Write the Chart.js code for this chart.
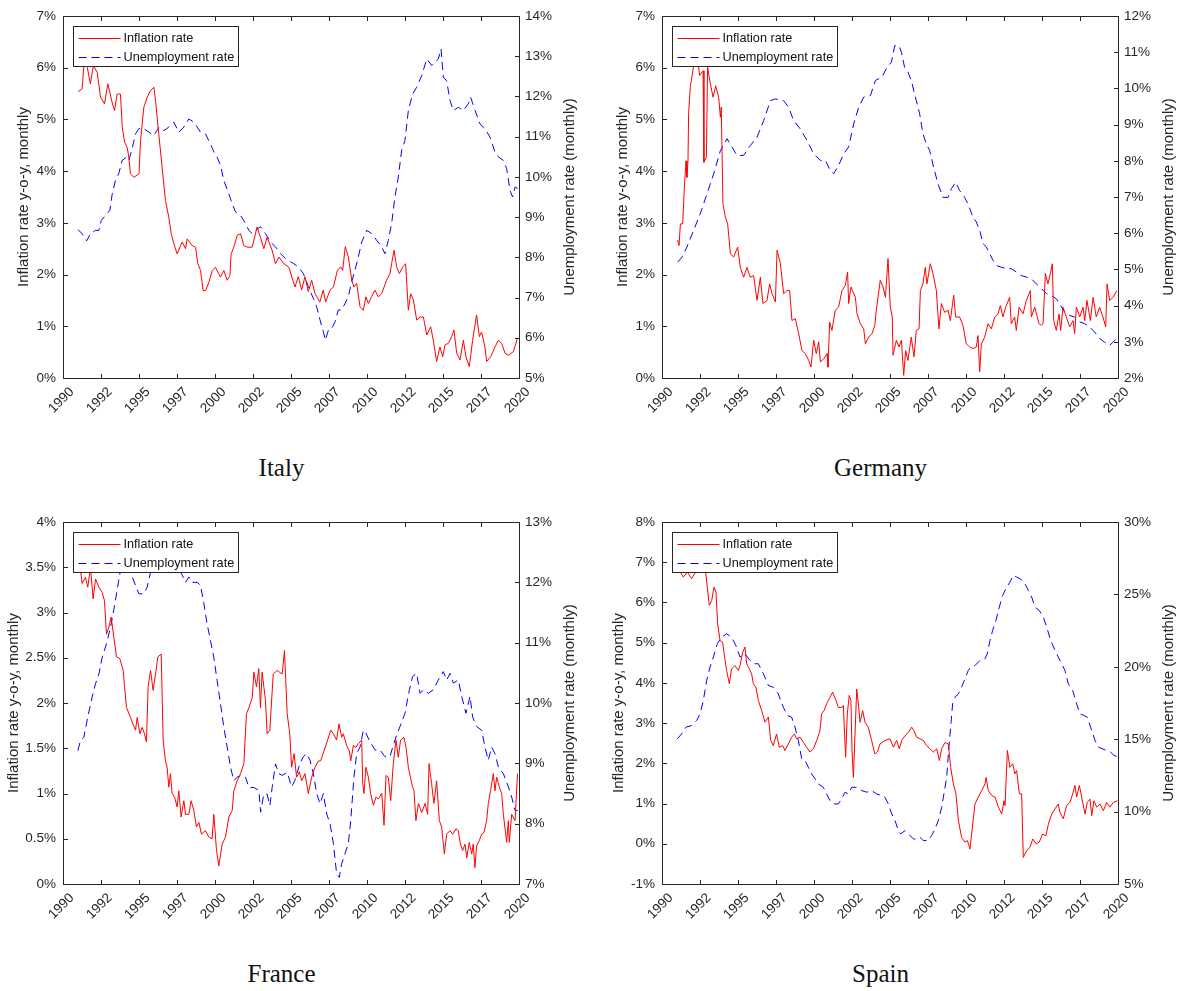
<!DOCTYPE html>
<html>
<head>
<meta charset="utf-8">
<title>Inflation and unemployment</title>
<script src="https://cdn.jsdelivr.net/npm/chart.js@4.4.1/dist/chart.umd.min.js"></script>
<style>
    html, body { margin: 0; padding: 0; background: #fff; overflow: hidden; }
    body { width: 1184px; height: 991px; position: relative; }
    .panel { position: absolute; width: 585px; height: 500px; }
    .panel canvas { position: absolute; left: 0; top: 0; }
    .country {
        position: absolute; left: 0; top: 455px; width: 563px;
        text-align: center; line-height: 25px;
        font-family: "Liberation Serif", "Times New Roman", serif;
        font-size: 25px; color: #111;
    }
</style>
</head>
<body>
<div class="panel" style="left:0;top:0"><canvas id="italy" width="585" height="430"></canvas><div class="country">Italy</div></div>
<div class="panel" style="left:599px;top:0"><canvas id="germany" width="585" height="430"></canvas><div class="country">Germany</div></div>
<div class="panel" style="left:0;top:506px"><canvas id="france" width="585" height="430"></canvas><div class="country">France</div></div>
<div class="panel" style="left:599px;top:506px"><canvas id="spain" width="585" height="430"></canvas><div class="country">Spain</div></div>

<script>
// ---- series: [year, percent] ----
const italyInflation = [
    [1991.0,5.54],[1991.26,5.59],[1991.38,6.07],[1991.5,6.1],[1991.6,6.0],[1991.8,5.69],[1992.0,6.04],[1992.25,5.91],
    [1992.47,5.43],[1992.73,5.3],[1992.95,5.69],[1993.23,5.33],[1993.39,5.17],[1993.56,5.49],[1993.78,5.49],[1993.9,4.85],
    [1994.05,4.56],[1994.22,4.46],[1994.33,4.27],[1994.44,3.95],[1994.66,3.88],[1995.0,3.95],[1995.1,4.59],[1995.32,5.24],
    [1995.54,5.43],[1995.76,5.56],[1995.98,5.62],[1996.09,5.36],[1996.3,4.72],[1996.52,4.08],[1996.74,3.43],[1996.96,3.11],
    [1997.12,2.79],[1997.29,2.6],[1997.51,2.4],[1997.84,2.63],[1998.06,2.5],[1998.17,2.69],[1998.5,2.56],[1998.72,2.53],
    [1998.87,2.21],[1999.05,2.08],[1999.22,1.69],[1999.38,1.69],[1999.6,1.85],[1999.82,2.08],[2000.03,2.14],[2000.36,1.95],
    [2000.58,2.08],[2000.8,1.89],[2000.98,1.98],[2001.06,2.4],[2001.24,2.53],[2001.46,2.76],[2001.68,2.79],[2001.9,2.56],
    [2002.12,2.53],[2002.45,2.53],[2002.77,2.92],[2002.99,2.72],[2003.21,2.5],[2003.43,2.72],[2003.76,2.47],[2003.98,2.21],
    [2004.2,2.34],[2004.53,2.21],[2004.86,2.14],[2005.26,1.76],[2005.48,1.96],[2005.7,1.7],[2005.92,1.96],[2006.14,1.67],
    [2006.36,1.89],[2006.58,1.63],[2006.9,1.47],[2007.12,1.7],[2007.28,1.47],[2007.57,1.7],[2007.79,1.76],[2008.05,2.08],
    [2008.27,2.15],[2008.4,2.08],[2008.57,2.54],[2008.77,2.34],[2009.0,1.89],[2009.14,1.76],[2009.32,1.83],[2009.54,1.38],
    [2009.76,1.31],[2009.93,1.57],[2010.09,1.44],[2010.3,1.57],[2010.52,1.7],[2010.74,1.57],[2010.96,1.63],[2011.29,1.89],
    [2011.51,2.02],[2011.62,2.21],[2011.78,2.47],[2011.95,2.15],[2012.13,2.02],[2012.35,2.15],[2012.54,2.21],[2012.72,1.31],
    [2012.87,1.63],[2013.05,1.51],[2013.27,1.12],[2013.49,1.18],[2013.71,1.18],[2013.93,0.83],[2014.19,0.99],[2014.36,0.73],
    [2014.58,0.32],[2014.8,0.6],[2014.98,0.41],[2015.13,0.64],[2015.35,0.67],[2015.57,0.8],[2015.72,0.93],[2015.9,0.48],
    [2016.12,0.35],[2016.34,0.73],[2016.51,0.41],[2016.73,0.22],[2016.95,0.73],[2017.21,1.22],[2017.39,0.8],[2017.54,0.89],
    [2017.76,0.6],[2017.87,0.32],[2018.14,0.41],[2018.42,0.6],[2018.64,0.73],[2018.86,0.67],[2019.08,0.48],[2019.3,0.44],
    [2019.63,0.51],[2019.9,0.77]
];
const italyUnemployment = [
    [1990.98,8.69],[1991.26,8.59],[1991.55,8.41],[1991.81,8.59],[1992.14,8.67],[1992.36,8.67],[1992.52,8.92],[1992.8,9.04],
    [1993.08,9.17],[1993.24,9.58],[1993.45,9.91],[1993.67,10.08],[1993.89,10.41],[1994.18,10.49],[1994.33,10.41],[1994.55,10.7],
    [1994.77,11.07],[1994.99,11.2],[1995.32,11.2],[1995.65,11.11],[1995.98,11.03],[1996.31,11.24],[1996.64,11.15],[1996.96,11.24],
    [1997.29,11.36],[1997.62,11.11],[1997.95,11.24],[1998.28,11.44],[1998.61,11.36],[1999.05,11.11],[1999.37,11.07],[1999.7,10.82],
    [1999.93,10.62],[2000.14,10.49],[2000.36,10.29],[2000.58,9.91],[2000.91,9.58],[2001.13,9.33],[2001.35,9.13],[2001.68,9.04],
    [2002.01,8.84],[2002.23,8.67],[2002.45,8.59],[2002.67,8.67],[2002.99,8.76],[2003.32,8.59],[2003.65,8.38],[2003.98,8.26],
    [2004.31,8.09],[2004.64,7.97],[2004.97,7.89],[2005.15,7.85],[2005.48,7.76],[2005.81,7.6],[2006.14,7.27],[2006.47,6.98],
    [2006.69,6.77],[2006.91,6.44],[2007.13,6.15],[2007.26,5.94],[2007.46,6.19],[2007.68,6.23],[2007.9,6.4],[2008.11,6.69],
    [2008.33,6.69],[2008.55,6.85],[2008.77,7.02],[2008.99,7.39],[2009.21,7.68],[2009.43,8.01],[2009.65,8.38],[2009.98,8.67],
    [2010.31,8.59],[2010.64,8.42],[2010.97,8.26],[2011.18,8.09],[2011.4,8.42],[2011.62,8.84],[2011.84,9.5],[2012.06,10.0],
    [2012.28,10.66],[2012.5,10.91],[2012.72,11.65],[2013.0,12.06],[2013.27,12.23],[2013.6,12.52],[2013.93,12.93],[2014.26,12.77],
    [2014.47,12.85],[2014.69,12.93],[2014.87,13.18],[2015.02,12.48],[2015.24,12.39],[2015.46,11.9],[2015.68,11.65],[2016.01,11.73],
    [2016.34,11.65],[2016.67,11.82],[2016.82,11.98],[2017.11,11.65],[2017.43,11.32],[2017.76,11.2],[2018.09,10.99],[2018.42,10.62],
    [2018.64,10.5],[2018.97,10.41],[2019.19,10.2],[2019.41,9.66],[2019.58,9.5],[2019.74,9.75],[2019.91,9.71]
];

const germanyInflation = [
    [1991.03,2.67],[1991.12,2.56],[1991.21,2.98],[1991.36,2.98],[1991.47,3.69],[1991.58,4.2],[1991.64,3.88],[1991.71,4.2],
    [1991.75,5.11],[1991.86,5.62],[1992.08,6.04],[1992.35,6.14],[1992.48,5.85],[1992.7,5.94],[1992.76,4.17],[1992.92,4.27],
    [1993.0,6.01],[1993.18,5.69],[1993.36,5.43],[1993.53,5.65],[1993.73,5.43],[1993.84,5.04],[1993.9,5.24],[1994.01,3.37],
    [1994.17,3.11],[1994.32,2.98],[1994.5,2.4],[1994.71,2.34],[1994.98,2.53],[1995.15,2.14],[1995.37,1.95],[1995.59,2.14],
    [1995.81,1.95],[1996.03,1.98],[1996.25,1.5],[1996.47,1.95],[1996.64,1.44],[1996.91,1.5],[1997.08,1.82],[1997.24,1.63],
    [1997.46,1.47],[1997.57,2.47],[1997.79,2.21],[1998.0,1.63],[1998.22,1.69],[1998.4,1.69],[1998.55,1.11],[1998.77,1.15],
    [1998.99,0.86],[1999.21,0.53],[1999.43,0.47],[1999.65,0.34],[1999.8,0.21],[1999.98,0.73],[2000.15,0.47],[2000.31,0.7],
    [2000.42,0.31],[2000.64,0.37],[2000.86,0.47],[2000.92,0.21],[2001.03,1.08],[2001.18,0.92],[2001.4,1.31],[2001.62,1.37],
    [2001.84,1.69],[2002.06,1.79],[2002.21,2.05],[2002.28,1.44],[2002.43,1.76],[2002.72,1.56],[2002.83,1.24],[2003.05,1.05],
    [2003.27,0.95],[2003.38,0.66],[2003.6,0.79],[2003.82,0.86],[2004.0,1.02],[2004.1,1.31],[2004.36,1.89],[2004.54,1.76],
    [2004.7,1.56],[2004.87,2.31],[2005.02,1.37],[2005.15,1.18],[2005.2,0.44],[2005.42,0.73],[2005.59,0.6],[2005.75,0.73],
    [2005.9,0.05],[2006.03,0.53],[2006.18,0.34],[2006.4,0.79],[2006.58,0.41],[2006.73,0.92],[2006.91,0.95],[2007.0,1.69],
    [2007.17,1.82],[2007.32,2.14],[2007.43,1.82],[2007.65,2.21],[2007.83,2.02],[2008.05,1.69],[2008.22,0.95],[2008.38,1.44],
    [2008.6,1.27],[2008.82,1.31],[2008.97,1.11],[2009.19,1.6],[2009.32,1.18],[2009.58,1.18],[2009.8,1.02],[2010.02,0.66],
    [2010.24,0.6],[2010.46,0.57],[2010.68,0.6],[2010.79,0.82],[2010.9,0.12],[2011.01,0.66],[2011.23,0.79],[2011.45,1.05],
    [2011.67,0.95],[2011.89,1.18],[2012.11,1.24],[2012.26,1.4],[2012.43,1.18],[2012.61,1.37],[2012.87,1.56],[2012.98,1.05],
    [2013.2,1.18],[2013.31,0.92],[2013.49,1.37],[2013.75,1.24],[2013.97,1.5],[2014.23,1.69],[2014.3,1.18],[2014.52,1.37],
    [2014.8,1.05],[2014.96,1.02],[2015.07,1.05],[2015.22,2.02],[2015.39,1.82],[2015.55,2.02],[2015.68,2.21],[2015.77,1.11],
    [2015.94,0.92],[2016.12,1.24],[2016.23,0.92],[2016.38,1.37],[2016.6,1.18],[2016.82,0.99],[2017.04,1.11],[2017.15,0.86],
    [2017.26,1.37],[2017.48,1.18],[2017.7,1.37],[2017.81,1.11],[2017.96,1.5],[2018.18,1.11],[2018.36,1.56],[2018.57,1.18],
    [2018.79,1.37],[2019.01,1.18],[2019.19,0.99],[2019.28,1.82],[2019.45,1.5],[2019.67,1.56],[2019.93,1.69]
];
const germanyUnemployment = [
    [1991.03,5.2],[1991.32,5.34],[1991.64,5.62],[1992.08,6.08],[1992.52,6.54],[1992.96,7.09],[1993.4,7.64],[1993.84,8.28],
    [1994.28,8.61],[1994.61,8.38],[1994.93,8.15],[1995.37,8.15],[1995.81,8.42],[1996.25,8.65],[1996.69,9.11],[1997.13,9.66],
    [1997.46,9.71],[1998.0,9.66],[1998.33,9.48],[1998.66,9.11],[1999.1,8.88],[1999.54,8.56],[1999.98,8.19],[2000.42,8.01],
    [2000.75,8.01],[2001.07,7.73],[2001.29,7.64],[2001.62,7.87],[2001.95,8.19],[2002.28,8.38],[2002.61,9.02],[2002.94,9.48],
    [2003.27,9.76],[2003.71,9.8],[2004.04,10.22],[2004.47,10.31],[2004.8,10.58],[2005.09,10.72],[2005.31,11.18],[2005.59,11.18],
    [2005.75,11.0],[2005.96,10.58],[2006.18,10.45],[2006.4,10.22],[2006.73,9.66],[2006.95,9.3],[2007.17,8.74],[2007.39,8.47],
    [2007.61,8.28],[2007.87,7.82],[2008.16,7.36],[2008.49,6.99],[2008.82,6.99],[2009.04,7.23],[2009.32,7.41],[2009.58,7.18],
    [2009.91,6.99],[2010.13,6.81],[2010.46,6.44],[2010.68,6.31],[2010.9,6.08],[2011.12,5.71],[2011.34,5.62],[2011.56,5.43],
    [2011.78,5.25],[2012.0,5.11],[2012.32,5.06],[2012.65,5.02],[2012.98,5.02],[2013.31,4.93],[2013.64,4.83],[2013.97,4.79],
    [2014.3,4.74],[2014.63,4.6],[2014.96,4.47],[2015.29,4.33],[2015.61,4.28],[2015.94,4.19],[2016.16,4.05],[2016.49,3.82],
    [2016.82,3.73],[2017.15,3.68],[2017.48,3.55],[2017.81,3.5],[2018.14,3.41],[2018.46,3.27],[2018.79,3.09],[2019.12,2.99],
    [2019.45,2.9],[2019.67,2.99],[2019.93,3.09]
];

const franceInflation = [
    [1990.98,3.54],[1991.15,3.47],[1991.26,3.32],[1991.48,3.39],[1991.63,3.28],[1991.81,3.5],[1991.98,3.15],[1992.14,3.37],
    [1992.36,3.28],[1992.58,3.22],[1992.73,3.13],[1992.86,2.76],[1993.02,2.84],[1993.17,2.95],[1993.34,2.73],[1993.52,2.51],
    [1993.74,2.49],[1993.96,2.36],[1994.05,2.18],[1994.18,1.95],[1994.44,1.84],[1994.55,1.79],[1994.77,1.7],[1994.88,1.84],
    [1995.06,1.66],[1995.21,1.73],[1995.36,1.66],[1995.49,1.57],[1995.6,2.18],[1995.76,2.36],[1995.93,2.14],[1996.09,2.32],
    [1996.24,2.51],[1996.46,2.54],[1996.59,1.59],[1996.74,1.36],[1996.85,1.29],[1996.96,1.07],[1997.07,1.22],[1997.18,1.0],
    [1997.34,0.96],[1997.51,0.85],[1997.62,1.03],[1997.77,0.74],[1997.95,0.92],[1998.06,0.77],[1998.28,0.77],[1998.43,0.92],
    [1998.61,0.81],[1998.78,0.63],[1998.94,0.68],[1999.11,0.55],[1999.37,0.59],[1999.59,0.52],[1999.81,0.5],[1999.92,0.77],
    [2000.1,0.37],[2000.25,0.2],[2000.47,0.44],[2000.69,0.52],[2000.91,0.74],[2001.13,0.81],[2001.24,1.03],[2001.46,1.14],
    [2001.68,1.22],[2001.9,1.33],[2002.07,1.88],[2002.23,1.95],[2002.45,2.06],[2002.56,2.34],[2002.73,2.18],[2002.88,2.38],
    [2002.99,1.95],[2003.1,2.34],[2003.32,2.03],[2003.43,1.66],[2003.61,1.7],[2003.83,2.32],[2004.09,2.36],[2004.42,2.32],
    [2004.57,2.58],[2004.75,1.88],[2004.92,1.66],[2005.04,1.29],[2005.2,1.44],[2005.37,1.18],[2005.55,1.24],[2005.7,1.14],
    [2005.92,1.22],[2006.14,1.0],[2006.36,1.18],[2006.58,1.29],[2006.8,1.36],[2006.95,1.36],[2007.17,1.47],[2007.41,1.59],
    [2007.61,1.7],[2007.79,1.66],[2008.0,1.59],[2008.16,1.77],[2008.33,1.62],[2008.44,1.66],[2008.66,1.53],[2008.84,1.47],
    [2008.93,1.36],[2009.1,1.53],[2009.28,1.51],[2009.43,1.55],[2009.65,1.59],[2009.72,1.11],[2009.8,1.0],[2009.93,1.29],
    [2010.09,1.18],[2010.24,1.0],[2010.42,0.87],[2010.59,0.96],[2010.75,0.94],[2010.97,1.0],[2011.12,0.65],[2011.25,1.2],
    [2011.4,1.18],[2011.56,0.92],[2011.73,1.33],[2011.91,1.59],[2012.06,1.4],[2012.21,1.59],[2012.43,1.62],[2012.57,1.51],
    [2012.72,1.29],[2012.94,1.11],[2013.09,1.03],[2013.22,0.7],[2013.38,0.89],[2013.6,0.79],[2013.82,0.89],[2013.99,0.77],
    [2014.08,1.33],[2014.25,1.11],[2014.4,0.89],[2014.58,1.14],[2014.76,0.7],[2014.91,0.63],[2015.09,0.33],[2015.24,0.55],
    [2015.46,0.59],[2015.64,0.55],[2015.85,0.61],[2016.01,0.59],[2016.12,0.46],[2016.29,0.37],[2016.45,0.44],[2016.56,0.29],
    [2016.73,0.46],[2016.89,0.33],[2016.99,0.44],[2017.1,0.18],[2017.21,0.42],[2017.39,0.48],[2017.54,0.55],[2017.7,0.57],
    [2017.87,0.7],[2017.98,0.89],[2018.13,1.03],[2018.31,1.22],[2018.42,1.03],[2018.53,1.18],[2018.71,1.07],[2018.86,1.0],
    [2018.97,0.77],[2019.19,0.46],[2019.3,0.7],[2019.36,0.46],[2019.52,0.77],[2019.74,0.7],[2019.9,1.22]
];
const franceUnemployment = [
    [1990.98,9.21],[1991.15,9.38],[1991.37,9.43],[1991.63,9.77],[1991.92,10.1],[1992.14,10.32],[1992.36,10.48],[1992.58,10.76],
    [1992.86,10.98],[1993.13,11.26],[1993.34,11.54],[1993.56,11.87],[1993.78,12.2],[1994.1,12.4],[1994.35,12.35],[1994.55,12.09],
    [1994.77,11.95],[1994.99,11.81],[1995.32,11.81],[1995.54,11.92],[1995.76,12.17],[1996.0,12.35],[1996.5,12.45],[1997.0,12.4],
    [1997.4,12.3],[1997.73,12.17],[1997.84,12.12],[1998.06,12.0],[1998.28,12.09],[1998.5,12.0],[1998.83,12.0],[1999.05,11.95],
    [1999.27,11.65],[1999.48,11.31],[1999.7,11.04],[1999.92,10.76],[2000.14,10.37],[2000.36,9.99],[2000.58,9.6],[2000.8,9.27],
    [2001.02,8.94],[2001.24,8.71],[2001.46,8.77],[2001.68,8.8],[2002.01,8.77],[2002.23,8.6],[2002.56,8.6],[2002.89,8.55],
    [2003.0,8.19],[2003.21,8.49],[2003.43,8.49],[2003.61,8.3],[2003.76,8.6],[2003.98,8.99],[2004.2,8.83],[2004.42,8.8],
    [2004.75,8.85],[2005.04,8.61],[2005.26,8.72],[2005.59,9.0],[2005.81,9.11],[2006.03,9.16],[2006.25,9.05],[2006.47,8.83],
    [2006.69,8.5],[2006.91,8.33],[2007.13,8.5],[2007.35,8.16],[2007.57,8.0],[2007.79,7.67],[2008.0,7.17],[2008.18,7.11],
    [2008.33,7.33],[2008.55,7.5],[2008.77,7.67],[2008.93,8.05],[2009.14,8.77],[2009.32,9.16],[2009.54,9.27],[2009.76,9.55],
    [2009.93,9.5],[2010.15,9.38],[2010.53,9.22],[2010.86,9.22],[2011.18,9.11],[2011.51,9.11],[2011.73,9.3],[2011.95,9.47],
    [2012.17,9.61],[2012.5,9.83],[2012.79,10.22],[2013.0,10.44],[2013.27,10.49],[2013.49,10.16],[2013.71,10.22],[2014.04,10.16],
    [2014.36,10.22],[2014.69,10.38],[2015.02,10.52],[2015.24,10.38],[2015.46,10.49],[2015.68,10.33],[2016.01,10.38],[2016.23,10.11],
    [2016.51,9.83],[2016.78,10.11],[2016.95,9.77],[2017.21,9.61],[2017.54,9.55],[2017.76,9.27],[2017.98,9.05],[2018.2,9.27],
    [2018.42,9.16],[2018.64,8.94],[2018.97,8.83],[2019.3,8.61],[2019.52,8.44],[2019.74,8.22],[2019.91,8.22]
];

const spainInflation = [
    [1991.01,6.88],[1991.4,6.63],[1991.67,6.75],[1991.95,6.59],[1992.28,6.8],[1992.5,6.79],[1992.83,6.88],[1992.98,6.38],
    [1993.11,5.93],[1993.27,6.05],[1993.42,6.38],[1993.55,6.26],[1993.66,5.47],[1993.82,5.05],[1993.99,5.01],[1994.12,4.64],
    [1994.25,4.31],[1994.43,3.98],[1994.58,4.35],[1994.8,4.43],[1995.02,4.31],[1995.13,4.43],[1995.31,4.76],[1995.46,4.89],
    [1995.57,4.47],[1995.75,4.35],[1995.9,4.22],[1996.01,3.98],[1996.18,3.89],[1996.34,3.56],[1996.56,3.31],[1996.78,3.02],
    [1997.0,3.15],[1997.15,2.57],[1997.32,2.44],[1997.54,2.73],[1997.72,2.4],[1997.94,2.44],[1998.09,2.32],[1998.31,2.48],
    [1998.53,2.65],[1998.71,2.73],[1998.86,2.61],[1999.08,2.65],[1999.3,2.52],[1999.52,2.4],[1999.74,2.28],[1999.96,2.36],
    [2000.18,2.57],[2000.39,2.81],[2000.5,3.23],[2000.66,3.31],[2000.83,3.48],[2001.05,3.64],[2001.23,3.77],[2001.45,3.56],
    [2001.6,3.39],[2001.82,3.39],[2001.93,3.44],[2002.08,2.15],[2002.19,3.23],[2002.32,3.69],[2002.43,3.56],[2002.5,2.32],
    [2002.59,1.65],[2002.7,2.73],[2002.81,3.85],[2002.94,3.39],[2003.03,3.02],[2003.2,3.31],[2003.36,3.02],[2003.57,2.9],
    [2003.79,2.57],[2004.01,2.23],[2004.17,2.28],[2004.34,2.48],[2004.67,2.57],[2005.0,2.61],[2005.22,2.4],[2005.44,2.57],
    [2005.61,2.36],[2005.77,2.57],[2005.99,2.69],[2006.21,2.77],[2006.43,2.9],[2006.58,2.81],[2006.75,2.65],[2006.97,2.61],
    [2007.19,2.57],[2007.41,2.44],[2007.63,2.36],[2007.85,2.28],[2008.07,2.36],[2008.25,2.07],[2008.4,2.36],[2008.62,2.52],
    [2008.84,2.48],[2008.99,1.9],[2009.17,1.49],[2009.34,1.24],[2009.5,0.58],[2009.71,0.16],[2009.93,0.04],[2010.09,0.08],
    [2010.26,-0.13],[2010.37,0.24],[2010.59,0.99],[2010.81,1.16],[2011.03,1.32],[2011.25,1.49],[2011.32,1.65],[2011.47,1.32],
    [2011.69,1.2],[2011.91,1.16],[2012.13,0.91],[2012.35,0.74],[2012.5,1.07],[2012.57,0.95],[2012.72,2.32],[2012.89,1.9],
    [2013.07,1.99],[2013.22,1.74],[2013.33,1.82],[2013.51,1.24],[2013.66,1.24],[2013.77,-0.34],[2013.99,-0.17],[2014.21,-0.09],
    [2014.39,0.12],[2014.61,0.0],[2014.82,0.04],[2015.04,0.24],[2015.26,0.2],[2015.42,0.49],[2015.64,0.74],[2015.86,0.87],
    [2016.07,0.99],[2016.18,0.78],[2016.4,0.62],[2016.62,0.95],[2016.84,1.03],[2017.02,1.24],[2017.17,1.45],[2017.28,1.16],
    [2017.46,1.45],[2017.61,1.16],[2017.83,0.74],[2017.98,1.03],[2018.16,1.11],[2018.27,0.7],[2018.42,1.07],[2018.6,0.91],
    [2018.82,0.99],[2019.04,0.82],[2019.25,1.03],[2019.47,0.91],[2019.69,1.03],[2019.96,1.07]
];
const spainUnemployment = [
    [1991.01,15.02],[1991.29,15.37],[1991.58,15.83],[1991.95,15.94],[1992.28,16.29],[1992.5,16.75],[1992.72,17.67],[1992.94,19.06],
    [1993.16,19.98],[1993.38,20.67],[1993.64,21.59],[1993.93,22.05],[1994.25,22.28],[1994.58,22.05],[1994.91,21.36],[1995.13,20.67],
    [1995.46,20.9],[1995.79,20.44],[1996.12,20.21],[1996.34,20.21],[1996.67,19.52],[1997.0,18.71],[1997.32,18.59],[1997.65,18.13],
    [1997.98,17.21],[1998.25,16.64],[1998.53,16.52],[1998.75,15.83],[1998.97,14.91],[1999.19,13.64],[1999.41,13.53],[1999.63,13.06],
    [1999.85,12.6],[2000.07,12.26],[2000.29,11.91],[2000.61,11.68],[2000.83,11.22],[2001.05,10.76],[2001.27,10.53],[2001.6,10.53],
    [2001.82,10.88],[2002.04,11.34],[2002.26,11.22],[2002.48,11.68],[2002.81,11.68],[2003.14,11.45],[2003.47,11.34],[2003.8,11.45],
    [2004.12,11.22],[2004.45,11.11],[2004.67,10.99],[2004.89,10.53],[2005.11,9.84],[2005.33,9.38],[2005.55,8.69],[2005.7,8.46],
    [2005.99,8.69],[2006.32,8.34],[2006.54,8.11],[2006.75,8.11],[2006.97,8.23],[2007.19,8.0],[2007.52,8.0],[2007.74,8.34],
    [2007.96,8.8],[2008.18,9.38],[2008.4,10.3],[2008.62,11.68],[2008.73,12.37],[2008.84,13.99],[2008.99,15.83],[2009.12,17.44],
    [2009.28,17.9],[2009.5,18.13],[2009.71,18.59],[2009.93,19.17],[2010.15,19.75],[2010.31,19.98],[2010.59,20.09],[2010.92,20.44],
    [2011.25,20.55],[2011.4,20.9],[2011.58,21.82],[2011.75,22.51],[2011.97,23.2],[2012.19,24.12],[2012.41,24.93],[2012.68,25.51],
    [2012.89,25.85],[2013.11,26.31],[2013.33,26.2],[2013.55,26.08],[2013.82,25.85],[2014.1,25.28],[2014.32,24.82],[2014.54,24.12],
    [2014.82,23.89],[2015.09,23.43],[2015.31,22.74],[2015.57,21.82],[2015.86,21.13],[2016.18,20.44],[2016.51,19.75],[2016.73,18.82],
    [2017.02,18.36],[2017.28,17.44],[2017.5,16.75],[2017.76,16.64],[2017.98,16.52],[2018.2,15.83],[2018.49,14.91],[2018.71,14.45],
    [2018.99,14.33],[2019.25,14.22],[2019.52,14.1],[2019.74,13.87],[2019.96,13.8]
];

// axis ranges: [min, max, step]
const italyLeft = [0, 7, 1],     italyRight = [5, 14, 1];
const germanyLeft = [0, 7, 1],   germanyRight = [2, 12, 1];
const franceLeft = [0, 4, 0.5],  franceRight = [7, 13, 1];
const spainLeft = [-1, 8, 1],    spainRight = [5, 30, 5];
const yearRange = [1990, 2020, 2.5];

const AXIS = "#262626";
const SANS = "'Liberation Sans', Arial, Helvetica, sans-serif";
Chart.defaults.font.family = SANS;
Chart.defaults.color = AXIS;

const pct = (v) => Number(v.toFixed(1)) + "%";
const toPoints = (rows) => rows.map(([x, y]) => ({ x, y }));

// MATLAB-ish box: frame on all four sides with ticks pointing inward
const boxFrame = {
    id: "boxFrame",
    afterDraw(chart) {
        const { ctx, chartArea: a, scales } = chart;
        const len = 4.5;
        const px = (v) => Math.round(v) + 0.5;
        const L = px(a.left), R = px(a.right), T = px(a.top), B = px(a.bottom);
        ctx.save();
        ctx.strokeStyle = AXIS;
        ctx.lineWidth = 1;
        ctx.beginPath();
        ctx.rect(L, T, R - L, B - T);
        scales.x.ticks.forEach((t) => {
            const x = px(scales.x.getPixelForValue(t.value));
            ctx.moveTo(x, B); ctx.lineTo(x, B - len);
            ctx.moveTo(x, T); ctx.lineTo(x, T + len);
        });
        scales.y.ticks.forEach((t) => {
            const y = px(scales.y.getPixelForValue(t.value));
            ctx.moveTo(L, y); ctx.lineTo(L + len, y);
        });
        scales.y2.ticks.forEach((t) => {
            const y = px(scales.y2.getPixelForValue(t.value));
            ctx.moveTo(R, y); ctx.lineTo(R - len, y);
        });
        ctx.stroke();

        // right-hand axis title reads bottom-to-top, like the left one
        const t2 = chart.options.scales.y2.title;
        ctx.translate(a.right + 51, (a.top + a.bottom) / 2);
        ctx.rotate(-Math.PI / 2);
        ctx.font = "15px " + SANS;
        ctx.fillStyle = AXIS;
        ctx.textAlign = "center";
        ctx.textBaseline = "middle";
        ctx.fillText(t2.text, 0, 0);
        ctx.restore();
    }
};

// legend in a white box at the top-left corner of the plot
const boxLegend = {
    id: "boxLegend",
    afterDatasetsDraw(chart) {
        const { ctx, chartArea: a } = chart;
        const sets = chart.data.datasets;
        ctx.save();
        ctx.font = "12.7px " + SANS;
        const textW = Math.max(...sets.map((d) => ctx.measureText(d.label).width));
        const x = Math.round(a.left + 10) + 0.5;
        const y = Math.round(a.top + 10) + 0.5;
        const w = Math.round(textW + 54), h = 40;
        ctx.fillStyle = "#fff";
        ctx.fillRect(x, y, w, h);
        ctx.strokeStyle = AXIS;
        ctx.lineWidth = 1;
        ctx.strokeRect(x, y, w, h);
        sets.forEach((d, i) => {
            const cy = Math.round(y + 11.7 + i * 18.3) + 0.5;
            ctx.strokeStyle = d.borderColor;
            ctx.lineWidth = d.borderWidth;
            ctx.setLineDash(d.borderDash || []);
            ctx.beginPath();
            ctx.moveTo(x + 5, cy);
            ctx.lineTo(x + 47, cy);
            ctx.stroke();
            ctx.setLineDash([]);
            ctx.fillStyle = "#111";
            ctx.textBaseline = "middle";
            ctx.textAlign = "left";
            ctx.fillText(d.label, x + 50, cy);
        });
        ctx.restore();
    }
};

// titleX = centre of the left axis title, measured from the canvas edge
function valueAxis(range, position, title, width, titleX) {
    return {
        type: "linear",
        position,
        min: range[0],
        max: range[1],
        grid: { display: false, drawTicks: false },
        border: { display: false },
        ticks: {
            stepSize: range[2],
            maxTicksLimit: 40,
            padding: position === "left" ? 7 : 6,
            font: { size: 13.5 },
            color: AXIS,
            callback: pct,
        },
        title: {
            // the right title is drawn by boxFrame so it can be rotated the same way
            display: position === "left",
            text: title,
            color: AXIS,
            font: { size: 15 },
            padding: { top: Math.max(0, titleX - 9), bottom: 0 },
        },
        afterFit: (s) => { s.width = width; },
    };
}

function panel(id, inflation, unemployment, left, right, leftTitleX) {
    const ctx = document.getElementById(id).getContext("2d");
    return new Chart(ctx, {
        type: "line",
        data: {
            datasets: [
                {
                    label: "Inflation rate",
                    data: toPoints(inflation),
                    yAxisID: "y",
                    borderColor: "#ff0000",
                    borderWidth: 1,
                    pointRadius: 0,
                    tension: 0,
                },
                {
                    label: "Unemployment rate",
                    data: toPoints(unemployment),
                    yAxisID: "y2",
                    borderColor: "#0000ff",
                    borderWidth: 1,
                    borderDash: [8, 5],
                    pointRadius: 0,
                    tension: 0,
                },
            ],
        },
        options: {
            responsive: false,
            animation: false,
            events: [],
            layout: { padding: { top: 16, left: 0, right: 0, bottom: 0 } },
            plugins: { legend: { display: false }, tooltip: { enabled: false } },
            scales: {
                x: {
                    type: "linear",
                    min: yearRange[0],
                    max: yearRange[1],
                    grid: { display: false, drawTicks: false },
                    border: { display: false },
                    ticks: {
                        stepSize: yearRange[2],
                        maxTicksLimit: 40,
                        autoSkip: false,
                        minRotation: 45,
                        maxRotation: 45,
                        labelOffset: 9,
                        padding: 6,
                        font: { size: 13.5 },
                        color: AXIS,
                        callback: (v) => String(Math.floor(v)),
                    },
                    afterFit: (s) => { s.height = 52; },
                },
                y: valueAxis(left, "left", "Inflation rate y-o-y, monthly", 63, leftTitleX),
                y2: valueAxis(right, "right", "Unemployment rate (monthly)", 66, 0),
            },
        },
        plugins: [boxLegend, boxFrame],
    });
}

panel("italy", italyInflation, italyUnemployment, italyLeft, italyRight, 23.5);
panel("germany", germanyInflation, germanyUnemployment, germanyLeft, germanyRight, 24);
panel("france", franceInflation, franceUnemployment, franceLeft, franceRight, 13.5);
panel("spain", spainInflation, spainUnemployment, spainLeft, spainRight, 20);
</script>
</body>
</html>
